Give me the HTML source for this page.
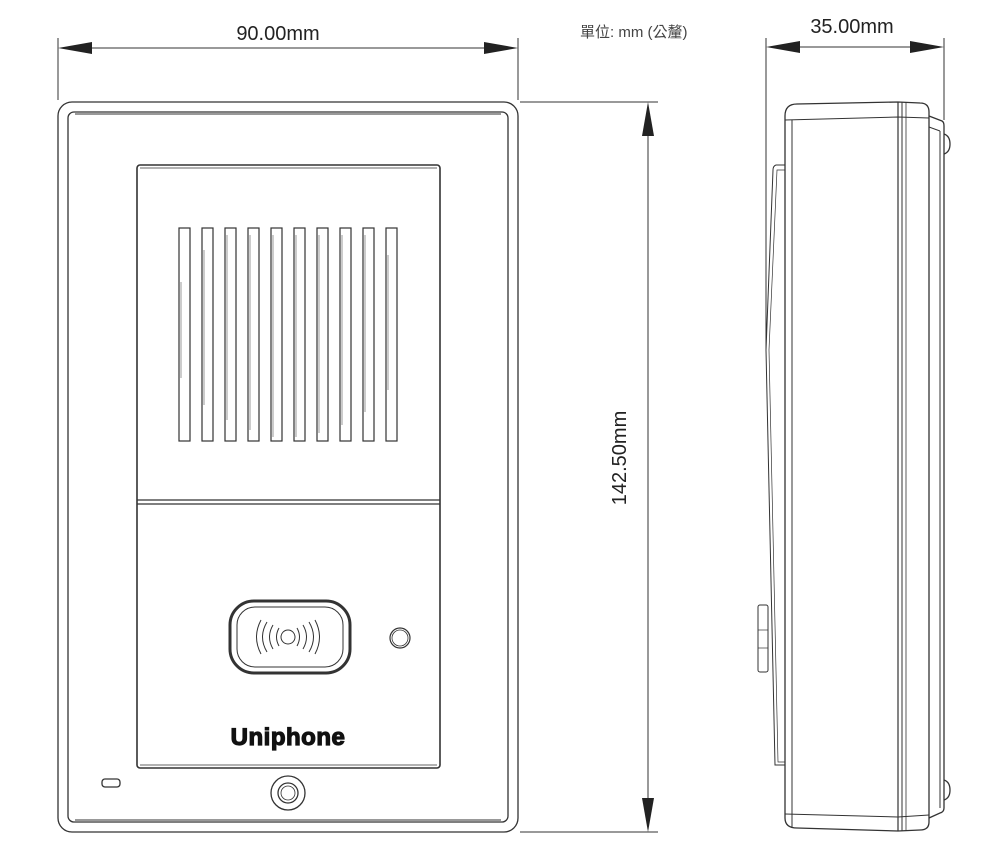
<!DOCTYPE html>
<html><head><meta charset="utf-8"><style>
html,body{margin:0;padding:0;background:#fff;}
svg{display:block;}
text{font-family:"Liberation Sans","Noto Sans CJK TC",sans-serif;}
</style></head><body>
<svg width="1000" height="844" viewBox="0 0 1000 844" xmlns="http://www.w3.org/2000/svg">
<g fill="none" stroke="#333" stroke-width="1.3">
  <rect x="58" y="102" width="460" height="730" rx="14"/>
  <rect x="68" y="112" width="440" height="710" rx="6"/>
  <line x1="75" y1="114" x2="501" y2="114" stroke-width="1"/>
  <line x1="75" y1="820" x2="501" y2="820" stroke-width="1"/>
  <rect x="137" y="165" width="303" height="603" rx="3" stroke-width="1.6"/>
  <line x1="140" y1="168" x2="437" y2="168" stroke-width="0.8"/>
  <line x1="137" y1="500" x2="440" y2="500"/>
  <line x1="137" y1="504" x2="440" y2="504"/>
  <line x1="140" y1="765" x2="437" y2="765" stroke-width="0.8"/>
  <g stroke-width="1.2">
    <rect x="179" y="228" width="11" height="213"/>
    <rect x="202" y="228" width="11" height="213"/>
    <rect x="225" y="228" width="11" height="213"/>
    <rect x="248" y="228" width="11" height="213"/>
    <rect x="271" y="228" width="11" height="213"/>
    <rect x="294" y="228" width="11" height="213"/>
    <rect x="317" y="228" width="11" height="213"/>
    <rect x="340" y="228" width="11" height="213"/>
    <rect x="363" y="228" width="11" height="213"/>
    <rect x="386" y="228" width="11" height="213"/>
  </g>
  <g stroke="#999" stroke-width="1">
    <line x1="181" y1="282" x2="181" y2="378"/><line x1="204" y1="250" x2="204" y2="405"/>
    <line x1="227" y1="235" x2="227" y2="420"/><line x1="250" y1="235" x2="250" y2="430"/>
    <line x1="273" y1="235" x2="273" y2="437"/><line x1="296" y1="235" x2="296" y2="437"/>
    <line x1="319" y1="235" x2="319" y2="433"/><line x1="342" y1="235" x2="342" y2="425"/>
    <line x1="365" y1="235" x2="365" y2="412"/><line x1="388" y1="255" x2="388" y2="390"/>
  </g>
  <rect x="230" y="601" width="120" height="72" rx="24" stroke-width="3"/>
  <rect x="237" y="607" width="106" height="60" rx="18" stroke-width="1"/>
  <circle cx="288" cy="637" r="7" stroke-width="1"/>
  <g stroke-width="1">
    <path d="M279 628 Q274 637 279 646"/><path d="M297 628 Q302 637 297 646"/>
    <path d="M273 625 Q266 637 273 649"/><path d="M303 625 Q310 637 303 649"/>
    <path d="M267 622 Q258 637 267 652"/><path d="M309 622 Q318 637 309 652"/>
    <path d="M261 620 Q252 637 261 654"/><path d="M315 620 Q324 637 315 654"/>
  </g>
  <circle cx="400" cy="638" r="10" stroke-width="1.2"/>
  <circle cx="400" cy="638" r="8" stroke-width="0.8"/>
  <rect x="102" y="779" width="18" height="8" rx="3"/>
  <circle cx="288" cy="793" r="17"/>
  <circle cx="288" cy="793" r="10"/>
  <circle cx="288" cy="793" r="7" stroke-width="0.8"/>

  <line x1="58" y1="38" x2="58" y2="100" stroke-width="1"/>
  <line x1="518" y1="38" x2="518" y2="100" stroke-width="1"/>
  <line x1="70" y1="48" x2="506" y2="48" stroke-width="1"/>
  <line x1="520" y1="102" x2="658" y2="102" stroke-width="1"/>
  <line x1="520" y1="832" x2="658" y2="832" stroke-width="1"/>
  <line x1="648" y1="110" x2="648" y2="824" stroke-width="1"/>

  <path d="M785 116 Q785 104 797 104 L898 102 L920 103 Q929 103 929 112 L929 822 Q929 830 920 830 L898 831 L797 828 Q785 828 785 818 Z"/>
  <path d="M785 120 L898 117 L929 118" stroke-width="1"/>
  <path d="M785 814 L898 817 L929 815" stroke-width="1"/>
  <line x1="792" y1="120" x2="792" y2="828" stroke-width="1"/>
  <line x1="898" y1="102" x2="898" y2="831" stroke-width="1.2"/>
  <line x1="902" y1="102" x2="902" y2="831" stroke-width="1"/>
  <line x1="906" y1="102" x2="906" y2="831" stroke-width="0.8"/>
  <path d="M929 116 L942 121 Q944 122 944 126 L944 808 Q944 812 940 813 L929 818"/>
  <line x1="929" y1="127" x2="940" y2="131" stroke-width="1"/>
  <line x1="940" y1="131" x2="940" y2="808" stroke-width="1"/>
  <path d="M944 134 Q950 136 950 144 Q950 152 944 154"/>
  <path d="M944 780 Q950 782 950 790 Q950 798 944 800"/>
  <path d="M785 165 L776 165 Q773 166 773 170 L766 350 L775 765 L785 765" stroke-width="1"/>
  <path d="M785 170 L777 170 L769 350 L778 762 L785 762" stroke-width="0.7"/>
  <rect x="758" y="605" width="10" height="67" rx="2" stroke-width="1"/>
  <line x1="758" y1="630" x2="768" y2="630" stroke-width="0.7"/>
  <line x1="758" y1="648" x2="768" y2="648" stroke-width="0.7"/>
  <line x1="766" y1="38" x2="766" y2="350" stroke-width="1"/>
  <line x1="944" y1="38" x2="944" y2="120" stroke-width="1"/>
  <line x1="776" y1="47" x2="934" y2="47" stroke-width="1"/>
</g>
<g fill="#222">
  <polygon points="58,48 92,42 92,54"/>
  <polygon points="518,48 484,42 484,54"/>
  <polygon points="648,102 642,136 654,136"/>
  <polygon points="648,832 642,798 654,798"/>
  <polygon points="766,47 800,41 800,53"/>
  <polygon points="944,47 910,41 910,53"/>
</g>
<text x="278" y="40" font-size="20" text-anchor="middle" fill="#222">90.00mm</text>
<text x="852" y="33" font-size="20" text-anchor="middle" fill="#222">35.00mm</text>
<text font-size="20" text-anchor="middle" fill="#222" transform="translate(626 458) rotate(-90)">142.50mm</text>
<text x="580" y="37" font-size="15" fill="#444">單位: mm (公釐)</text>
<text x="288" y="745" font-size="24" font-weight="bold" text-anchor="middle" fill="#111" stroke="#111" stroke-width="1.2" letter-spacing="0.5">Uniphone</text>
</svg>
</body></html>
